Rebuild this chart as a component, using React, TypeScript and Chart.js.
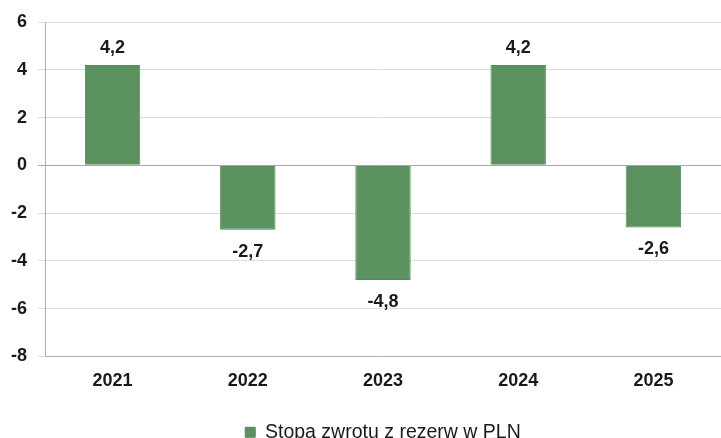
import React, { useEffect, useRef } from "react";
import { Chart, registerables } from "chart.js";

Chart.register(...registerables);

const categories = ["2021", "2022", "2023", "2024", "2025"];
const values = [4.2, -2.7, -4.8, 4.2, -2.6];
const seriesLabel = "Stopa zwrotu z rezerw w PLN";
const yMin = -8;
const yMax = 6;
const yStep = 2;

const FONT = "'Liberation Sans', Arial, sans-serif";

const dataLabels = {
  id: "dataLabels",
  afterDatasetsDraw(chart: any) {
    const ctx = chart.ctx;
    const meta = chart.getDatasetMeta(0);
    ctx.save();
    ctx.font = `bold 18px ${FONT}`;
    ctx.fillStyle = "#1a1a1a";
    ctx.textAlign = "center";
    meta.data.forEach((bar: any, i: number) => {
      const v = values[i];
      const txt = v.toFixed(1).replace(".", ",");
      if (v >= 0) {
        ctx.textBaseline = "bottom";
        ctx.fillText(txt, bar.x, bar.y - 8);
      } else {
        ctx.textBaseline = "middle";
        ctx.fillText(txt, bar.x, bar.y + 22);
      }
    });
    ctx.restore();
  },
};

const centerLegend = {
  id: "centerLegend",
  afterLayout(chart: any) {
    const l = chart.legend;
    if (!l) return;
    const shift = (chart.chartArea.left + chart.chartArea.right) / 2 - (l.left + l.right) / 2;
    l.left += shift;
    l.right += shift;
    if (l.legendHitBoxes) {
      l.legendHitBoxes.forEach((b: any) => {
        b.left += shift;
      });
    }
  },
};

export default function App() {
  const ref = useRef<HTMLCanvasElement | null>(null);
  useEffect(() => {
    document.body.style.margin = "0";
    const canvas = ref.current!;
    const chart = new Chart(canvas, {
      type: "bar",
      data: {
        labels: categories,
        datasets: [
          {
            label: seriesLabel,
            data: values,
            backgroundColor: "#5b915f",
            borderColor: "#548a58",
            borderWidth: 1,
            barPercentage: 0.41,
            categoryPercentage: 1,
          },
        ],
      },
      options: {
        animation: false,
        responsive: false,
        maintainAspectRatio: false,
        layout: { padding: { top: 22, right: 0, left: 0, bottom: -14 } },
        plugins: {
          legend: {
            display: true,
            position: "bottom",
            labels: {
              boxWidth: 10,
              boxHeight: 10,
              padding: 0,
              color: "#1a1a1a",
              font: { family: FONT, size: 19.5 },
            },
          },
          tooltip: { enabled: false },
        },
        scales: {
          x: {
            grid: { display: false, drawTicks: false },
            border: { display: true, color: "#b0b0b0", width: 1 },
            ticks: {
              color: "#1a1a1a",
              font: { family: FONT, size: 18, weight: "bold" },
              padding: 14,
            },
            afterFit(scale: any) {
              scale.height = 66;
            },
          },
          y: {
            min: yMin,
            max: yMax,
            grid: {
              color: (c: any) =>
                c.tick && c.tick.value === 0 ? "#a8a8a8" : "#dedede",
              lineWidth: 1,
              drawTicks: true,
              tickLength: 7,
            },
            border: { display: true, color: "#b0b0b0", width: 1 },
            ticks: {
              stepSize: yStep,
              color: "#1a1a1a",
              font: { family: FONT, size: 18, weight: "bold" },
              padding: 11,
              callback: (v: any) => String(v),
            },
            afterFit(scale: any) {
              scale.width = 45;
            },
          },
        },
      },
      plugins: [dataLabels, centerLegend],
    });
    return () => chart.destroy();
  }, []);
  return <canvas ref={ref} width={721} height={438} style={{ display: "block" }} />;
}
